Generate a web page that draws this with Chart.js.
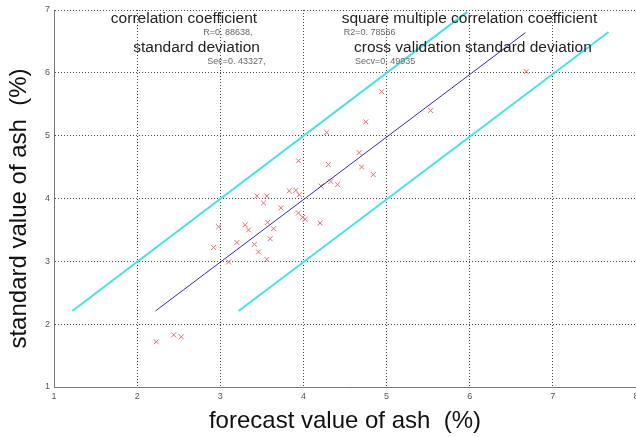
<!DOCTYPE html>
<html lang="en">
<head>
<meta charset="UTF-8">
<title>forecast vs standard value of ash</title>
<script src="https://cdn.jsdelivr.net/npm/chart.js@4"></script>
<style>
    html, body { margin: 0; padding: 0; background: #fff; }
    #wrap { width: 636px; height: 437px; }
</style>
</head>
<body>
<div id="wrap"><canvas id="ashChart" width="636" height="437"></canvas></div>
<script>
// measured samples: forecast (x) vs standard (y), in %
const forecastAsh = [2.23, 2.44, 2.53, 2.92, 2.98, 3.10, 3.20, 3.30, 3.34, 3.41, 3.46, 3.56, 3.57, 3.64, 3.60,
    3.44, 3.56, 3.52, 3.73, 3.83, 3.91, 3.95, 3.94, 3.99, 4.02, 4.20, 4.21, 4.33, 4.41, 3.94,
    4.30, 4.28, 4.67, 4.70, 4.84, 4.75, 4.94, 5.53, 6.68];
const standardAsh = [1.72, 1.83, 1.80, 3.22, 3.55, 2.99, 3.30, 3.58, 3.50, 3.27, 3.15, 3.03, 3.62, 3.52, 3.36,
    4.04, 4.04, 3.93, 3.85, 4.12, 4.13, 4.06, 3.77, 3.70, 3.67, 3.61, 4.20, 4.27, 4.22, 4.60,
    4.54, 5.05, 4.73, 4.50, 4.38, 5.22, 5.70, 5.40, 6.02];

// fit line and the two limit lines (end points)
const fitX = [2.22, 6.67];
const fitY = [2.21, 6.64];
const upperX = [1.22, 5.97];
const upperY = [2.21, 6.97];
const lowerX = [3.22, 7.67];
const lowerY = [2.21, 6.65];

const xTicks = [1, 2, 3, 4, 5, 6, 7, 8];
const yTicks = [1, 2, 3, 4, 5, 6, 7];

// statistics printed on the plot
const noteText = ['correlation coefficient', 'R=0. 88638,', 'standard deviation', 'Sec=0. 43327,',
    'square multiple correlation coefficient', 'R2=0. 78566', 'cross validation standard deviation', 'Secv=0. 49935'];
const noteX = [1.684, 2.795, 1.953, 2.843, 4.46, 4.484, 4.608, 4.62];
const noteY = [6.86, 6.64, 6.40, 6.18, 6.86, 6.64, 6.40, 6.18];
const noteBig = [true, false, true, false, true, false, true, false];

const toPoints = (xs, ys) => xs.map((x, i) => ({x: x, y: ys[i]}));

const notesPlugin = {
    id: 'notes',
    afterDatasetsDraw(chart) {
        const {ctx, scales} = chart;
        ctx.save();
        ctx.textAlign = 'left';
        ctx.textBaseline = 'middle';
        noteText.forEach((t, i) => {
            ctx.font = noteBig[i] ? '15.5px "Liberation Sans", Arial, sans-serif' : '9px "Liberation Sans", Arial, sans-serif';
            ctx.fillStyle = noteBig[i] ? '#222' : '#666';
            ctx.fillText(t, scales.x.getPixelForValue(noteX[i]), scales.y.getPixelForValue(noteY[i]));
        });
        ctx.restore();
    }
};

const gridOpts = {color: '#444', lineWidth: 1, drawTicks: false};
const borderOpts = {color: '#777', width: 1, dash: [1, 2]};
const tickFont = {family: '"Liberation Sans", Arial, sans-serif', size: 9};
const titleFont = {family: '"Liberation Sans", Arial, sans-serif', size: 24};

new Chart(document.getElementById('ashChart'), {
    type: 'scatter',
    data: {
        datasets: [
            {
                label: 'upper',
                data: toPoints(upperX, upperY),
                showLine: true,
                borderColor: 'rgb(72, 226, 226)',
                borderWidth: 2,
                pointRadius: 0
            },
            {
                label: 'lower',
                data: toPoints(lowerX, lowerY),
                showLine: true,
                borderColor: 'rgb(72, 226, 226)',
                borderWidth: 2,
                pointRadius: 0
            },
            {
                label: 'fit',
                data: toPoints(fitX, fitY),
                showLine: true,
                borderColor: 'rgb(50, 45, 170)',
                borderWidth: 1,
                pointRadius: 0
            },
            {
                label: 'samples',
                data: toPoints(forecastAsh, standardAsh),
                pointStyle: 'crossRot',
                pointRadius: 3.5,
                borderColor: 'rgb(232, 110, 110)',
                backgroundColor: 'rgb(232, 110, 110)',
                borderWidth: 1
            }
        ]
    },
    options: {
        responsive: false,
        devicePixelRatio: 1,
        animation: false,
        layout: {autoPadding: false, padding: {top: 10, right: 0, left: 0, bottom: 0}},
        plugins: {legend: {display: false}, tooltip: {enabled: false}},
        scales: {
            x: {
                type: 'linear',
                min: 1,
                max: 8,
                afterBuildTicks: (scale) => { scale.ticks = xTicks.map(v => ({value: v})); },
                afterFit: (scale) => {
                    scale.height = 50;
                    scale.paddingLeft = 0;
                    scale.paddingRight = 0;
                },
                grid: gridOpts,
                border: borderOpts,
                ticks: {font: tickFont, color: '#555', padding: 4, maxRotation: 0},
                title: {
                    display: true,
                    text: 'forecast value of ash  (%)',
                    font: titleFont,
                    color: '#111',
                    padding: {top: 0, bottom: 1}
                }
            },
            y: {
                type: 'linear',
                min: 1,
                max: 7,
                afterBuildTicks: (scale) => { scale.ticks = yTicks.map(v => ({value: v})); },
                afterFit: (scale) => { scale.width = 54; },
                grid: gridOpts,
                border: borderOpts,
                ticks: {font: tickFont, color: '#555', padding: 4},
                title: {
                    display: true,
                    text: 'standard value of ash  (%)   ',
                    font: titleFont,
                    color: '#111',
                    padding: {top: 5, bottom: 0}
                }
            }
        }
    },
    plugins: [notesPlugin]
});
</script>
</body>
</html>
